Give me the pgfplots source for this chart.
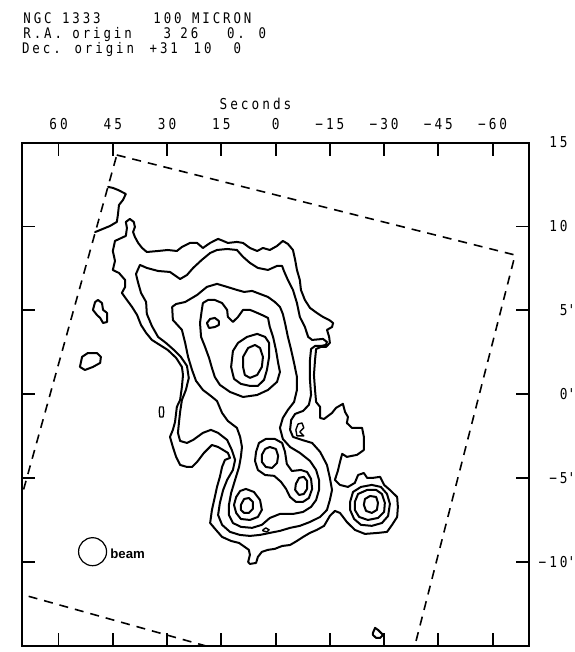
\documentclass[border=0pt]{standalone}
\usepackage{fontspec}
\usepackage{pgfplots}
\pgfplotsset{compat=1.18}
\usetikzlibrary{calc}
\newfontfamily\plotfont[FakeStretch=0.85,LetterSpace=20]{DejaVu Sans Mono}
\newfontfamily\beamfont{Liberation Sans}
\newcommand\hdr{\plotfont\fontsize{7.3pt}{8pt}\selectfont}
\newcommand\tkf{\plotfont\fontsize{7.5pt}{8pt}\selectfont}
\begin{document}
\begin{tikzpicture}
\begin{axis}[name=ax, scale only axis, width=253.2pt, height=251.7pt,
  xmin=-70, xmax=70, ymin=-15, ymax=15, x dir=reverse,
  axis line style={line width=1pt},
  tick align=inside, major tick length=6.5pt,
  tick style={black, line width=0.9pt},
  xtick={-60,-45,-30,-15,0,15,30,45,60},
  xticklabels={−60,−45,−30,−15,0,15,30,45,60},
  xticklabel pos=top,
  xticklabel style={font=\tkf, anchor=base, inner sep=0pt, yshift=6.3pt},
  ytick={-10,-5,0,5,10,15},
  yticklabels={−10\rlap{'},−5\rlap{'},0\rlap{'},5\rlap{'},10,15},
  yticklabel pos=right,
  yticklabel style={font=\tkf, anchor=east, inner sep=0pt, xshift=19.6pt},
  cont/.style={black, line width=1pt, line join=round, line cap=round},
]
% coverage boundary (dashed)
\addplot[black, line width=0.8pt, dash pattern=on 4.5pt off 3.5pt] coordinates {
(43.9,14.26) (-66.2,8.3) (-34.6,-18.25) (77.2,-11.5) (43.9,14.26)};
% L1 outer contour
\addplot[cont] coordinates {
(40.3,10.45)(39.2,10.27)(38.9,9.97)(39.4,9.67)(38.9,9.38)(38.0,9.02)(36.9,8.72)(35.6,8.48)(32.5,8.54)(29.8,8.60)(27.3,8.54)(25.9,8.78)(23.7,9.02)(21.7,9.02)(20.1,8.72)(18.1,9.02)(15.9,9.26)(14.5,9.14)(13.2,9.02)(10.7,9.08)(9.0,9.02)(7.1,8.72)(5.1,8.54)(3.5,8.72)(1.6,8.60)(-0.4,8.84)(-2.0,9.14)(-3.4,8.96)(-4.8,8.60)(-5.4,8.01)(-5.9,7.41)(-6.7,6.81)(-7.0,6.22)(-8.1,5.62)(-9.5,5.15)(-11.4,4.85)(-13.1,4.61)(-14.8,4.43)(-15.9,4.25)(-15.6,4.01)(-14.2,3.84)(-14.8,3.42)(-15.0,3.06)(-13.9,2.82)(-12.5,2.82)(-11.2,2.70)(-10.9,2.05)(-10.6,1.15)(-10.9,0.26)(-11.2,-0.46)(-12.3,-0.75)(-12.3,-1.41)(-13.4,-1.47)(-15.6,-1.11)(-16.7,-0.81)(-18.6,-0.57)(-19.2,-1.05)(-20.0,-1.35)(-19.7,-1.71)(-21.1,-2.00)(-23.9,-2.00)(-24.4,-2.54)(-24.4,-3.32)(-22.5,-3.61)(-19.7,-3.73)(-18.4,-3.55)(-17.8,-4.03)(-17.2,-4.57)(-16.4,-5.10)(-17.8,-5.40)(-20.0,-5.52)(-21.9,-5.28)(-22.8,-4.81)(-24.4,-4.69)(-25.3,-4.98)(-26.9,-4.98)(-28.9,-4.92)(-30.0,-5.40)(-31.6,-5.70)(-33.6,-6.12)(-33.8,-6.71)(-33.6,-7.31)(-32.2,-7.78)(-30.8,-8.20)(-28.3,-8.26)(-24.7,-8.32)(-21.9,-8.08)(-19.7,-7.61)(-17.8,-7.07)(-16.4,-6.95)(-15.0,-7.25)(-13.4,-7.84)(-11.4,-8.08)(-9.5,-8.26)(-7.6,-8.50)(-5.9,-8.74)(-4.0,-8.98)(-1.8,-9.04)(0.2,-9.21)(2.1,-9.27)(3.8,-9.39)(4.9,-9.69)(5.4,-10.05)(7.1,-10.11)(7.6,-9.99)(7.1,-9.57)(7.4,-9.27)(8.5,-9.10)(10.1,-8.86)(12.3,-8.74)(14.8,-8.50)(16.5,-8.08)(18.1,-7.67)(17.6,-6.89)(16.8,-6.12)(16.2,-5.52)(15.4,-4.92)(14.8,-4.33)(14.0,-3.91)(12.6,-3.79)(13.2,-3.49)(14.5,-3.32)(15.9,-3.14)(17.6,-3.02)(19.8,-3.49)(21.7,-4.03)(23.1,-4.33)(24.5,-4.33)(26.4,-4.21)(27.5,-3.73)(28.4,-3.14)(29.2,-2.54)(28.4,-2.12)(27.8,-1.65)(27.3,-0.75)(26.4,-0.34)(25.9,0.44)(25.6,1.15)(25.9,1.63)(27.5,2.17)(29.8,2.64)(32.0,2.94)(34.2,3.24)(35.8,3.66)(37.2,4.13)(38.3,4.73)(39.7,5.21)(41.1,5.62)(42.5,6.04)(41.6,6.40)(41.6,6.81)(43.3,7.23)(45.0,7.41)(44.4,7.95)(45.0,8.54)(44.4,9.14)(41.4,9.44)(41.1,9.91)(41.4,10.27)(40.3,10.45)};
% L2
\addplot[cont] coordinates {
(37.5,7.71)(35.6,7.53)(32.5,7.35)(29.2,7.29)(26.4,6.87)(24.5,7.11)(22.8,7.53)(20.4,8.01)(18.1,8.42)(16.2,8.60)(13.4,8.66)(10.7,8.60)(9.0,8.19)(7.1,7.83)(4.9,7.53)(2.1,7.41)(-0.4,7.65)(-1.8,7.65)(-2.3,7.35)(-3.4,6.81)(-4.8,6.22)(-5.9,5.44)(-6.7,4.61)(-8.1,4.01)(-9.0,3.42)(-10.1,3.24)(-13.1,3.30)(-14.2,3.12)(-13.9,2.94)(-12.5,2.88)(-10.9,2.88)(-9.8,2.70)(-9.5,2.05)(-9.5,0.86)(-9.8,-0.04)(-9.2,-0.63)(-7.6,-0.99)(-5.4,-1.17)(-4.3,-1.53)(-4.0,-2.12)(-4.8,-2.54)(-7.3,-2.72)(-10.1,-2.90)(-12.3,-3.43)(-14.2,-4.21)(-15.0,-4.98)(-15.6,-5.70)(-15.0,-6.30)(-14.2,-6.89)(-12.3,-7.31)(-9.5,-7.61)(-6.7,-7.84)(-4.0,-7.96)(-1.2,-8.14)(1.6,-8.26)(4.3,-8.38)(7.1,-8.44)(9.9,-8.38)(12.6,-8.20)(14.8,-7.78)(15.9,-7.19)(15.4,-6.47)(14.5,-5.70)(13.4,-5.10)(11.8,-4.51)(11.2,-3.91)(12.1,-3.32)(13.4,-2.72)(15.9,-2.30)(17.9,-2.12)(20.1,-2.30)(22.8,-2.72)(24.5,-2.90)(26.4,-2.78)(27.0,-2.30)(26.7,-1.65)(26.4,-1.05)(25.9,-0.34)(24.8,0.26)(24.0,0.97)(24.5,1.69)(26.2,2.23)(28.1,2.64)(30.3,3.06)(32.5,3.42)(34.2,4.07)(35.6,4.79)(35.8,5.50)(37.2,6.04)(38.0,6.64)(38.6,7.17)(37.5,7.71)};
% L3
\addplot[cont] coordinates {
(28.6,5.21)(28.4,4.43)(25.9,3.84)(25.0,3.06)(24.2,2.23)(23.1,1.45)(22.0,0.80)(20.1,0.26)(17.9,-0.10)(16.2,-0.40)(14.8,-1.11)(13.2,-1.59)(10.7,-2.00)(9.8,-2.54)(9.3,-3.14)(9.6,-3.73)(10.1,-4.33)(11.2,-5.10)(12.3,-5.88)(12.9,-6.59)(12.9,-7.19)(11.8,-7.67)(9.6,-7.90)(6.5,-7.96)(3.8,-7.78)(1.6,-7.37)(-1.2,-7.13)(-4.8,-7.13)(-7.6,-7.01)(-9.8,-6.71)(-11.2,-6.30)(-12.0,-5.70)(-12.0,-5.10)(-11.2,-4.51)(-9.5,-3.97)(-6.7,-3.49)(-4.0,-3.14)(-2.0,-2.66)(-1.2,-2.00)(-2.0,-1.41)(-3.4,-0.93)(-5.1,-0.46)(-5.9,0.26)(-5.9,1.03)(-5.1,1.87)(-4.3,2.64)(-3.4,3.42)(-2.6,4.25)(-2.0,4.79)(-1.2,5.21)(0.2,5.50)(2.1,5.80)(4.3,5.98)(6.5,6.16)(8.7,6.10)(10.7,6.22)(13.4,6.40)(16.2,6.58)(19.0,6.40)(21.7,5.92)(25.0,5.50)(27.5,5.38)(28.6,5.21)};
% L4 (upper)
\addplot[cont] coordinates {
(20.1,5.44)(18.7,5.62)(16.8,5.62)(14.8,5.44)(13.4,5.03)(13.2,4.61)(11.8,4.31)(10.4,4.61)(9.0,5.03)(7.1,5.03)(5.7,4.91)(3.8,4.73)(2.1,4.55)(1.6,4.01)(0.7,3.42)(-0.1,2.64)(-0.7,1.87)(-1.2,1.33)(-0.4,0.74)(2.1,0.26)(5.1,-0.04)(9.0,-0.16)(12.6,0.14)(15.4,0.56)(16.8,1.03)(17.6,1.57)(18.4,2.17)(19.5,2.82)(20.6,3.42)(20.9,4.25)(20.4,5.03)(20.1,5.44)};
% L5 (upper peak ring)
\addplot[cont] coordinates {
(12.3,1.63)(11.8,2.58)(10.4,3.06)(7.9,3.42)(5.1,3.60)(2.9,3.42)(1.8,3.06)(1.8,2.23)(2.4,1.45)(3.2,0.86)(4.9,0.50)(7.1,0.50)(9.6,0.62)(11.5,0.92)(12.3,1.63)};
% L6 (upper peak)
\addplot[cont] coordinates {
(9.0,2.23)(7.6,2.76)(5.7,2.94)(4.3,2.76)(3.5,2.23)(3.8,1.63)(5.1,1.15)(7.1,0.98)(8.5,1.15)(9.0,1.63)(9.0,2.23)};
% small oval in upper region
\addplot[cont] coordinates {
(19.0,4.25)(18.1,4.49)(16.8,4.55)(15.7,4.37)(15.7,4.13)(16.8,4.01)(18.4,3.95)(19.0,4.25)};
% lower peaks: A+B ring
\addplot[cont] coordinates {
(5.4,-3.43)(4.6,-2.90)(2.7,-2.66)(0.2,-2.66)(-1.8,-2.90)(-2.6,-3.43)(-3.1,-4.15)(-4.5,-4.57)(-7.0,-4.51)(-8.7,-4.63)(-9.8,-5.04)(-10.1,-5.64)(-9.2,-6.18)(-7.6,-6.41)(-5.6,-6.41)(-4.0,-6.12)(-2.9,-5.64)(-1.5,-5.22)(0.4,-4.86)(2.9,-4.81)(4.9,-4.51)(5.7,-3.97)(5.4,-3.43)};
\addplot[cont] coordinates {
(3.8,-3.61)(2.9,-3.26)(1.6,-3.14)(-0.1,-3.26)(-0.7,-3.67)(-0.4,-4.09)(1.0,-4.39)(2.7,-4.33)(3.8,-4.03)(3.8,-3.61)};
\addplot[cont] coordinates {
(-5.6,-5.34)(-6.5,-4.98)(-7.8,-4.92)(-8.7,-5.16)(-8.7,-5.64)(-7.8,-5.94)(-6.5,-6.00)(-5.4,-5.70)(-5.6,-5.34)};
% peak C
\addplot[cont] coordinates {
(10.9,-6.12)(9.8,-5.76)(8.2,-5.64)(6.0,-5.82)(4.3,-6.30)(3.8,-6.89)(4.9,-7.31)(7.1,-7.49)(9.6,-7.43)(10.9,-7.07)(11.5,-6.59)(10.9,-6.12)};
\addplot[cont] coordinates {
(9.6,-6.59)(8.7,-6.24)(7.4,-6.18)(6.3,-6.41)(6.3,-6.83)(7.4,-7.07)(8.7,-7.07)(9.6,-6.89)(9.6,-6.59)};
% source at -30 s
\addplot[cont] coordinates {
(-20.6,-6.41)(-21.4,-5.82)(-23.6,-5.52)(-26.6,-5.40)(-29.1,-5.52)(-30.8,-5.94)(-31.6,-6.53)(-31.1,-7.25)(-29.4,-7.67)(-26.6,-7.84)(-23.6,-7.78)(-21.7,-7.43)(-20.6,-6.89)(-20.6,-6.41)};
\addplot[cont] coordinates {
(-21.9,-6.41)(-22.8,-5.94)(-25.3,-5.70)(-27.8,-5.70)(-29.4,-5.94)(-30.2,-6.47)(-30.0,-7.01)(-28.3,-7.37)(-25.5,-7.49)(-23.1,-7.31)(-21.9,-6.89)(-21.9,-6.41)};
\addplot[cont] coordinates {
(-24.4,-6.59)(-24.7,-6.24)(-26.1,-6.06)(-27.8,-6.12)(-28.3,-6.47)(-28.0,-6.89)(-26.6,-7.07)(-25.0,-6.95)(-24.4,-6.59)};
% small isolated contours
\addplot[cont] coordinates {
(54.1,1.63)(53.5,2.23)(51.9,2.46)(49.4,2.46)(48.3,2.23)(48.5,1.87)(50.5,1.63)(52.7,1.45)(54.1,1.63)};
\addplot[cont] coordinates {
(49.9,5.50)(49.1,5.62)(48.0,5.44)(47.7,5.03)(46.6,4.85)(46.6,4.31)(47.7,4.25)(48.5,4.55)(49.4,4.73)(50.5,5.03)(49.9,5.50)};
\addplot[cont, line width=0.6pt] coordinates {
(32.2,-0.99)(32.0,-0.75)(31.1,-0.75)(30.9,-1.05)(31.1,-1.35)(32.0,-1.35)(32.2,-0.99)};
\addplot[cont] coordinates {
(46.3,12.36)(45.0,12.30)(43.6,12.18)(41.4,11.94)(42.2,11.58)(43.3,11.28)(43.6,10.69)(43.9,10.27)(45.8,10.03)(48.5,9.79)(49.9,9.67)};
\addplot[cont] coordinates {
(-26.9,-14.22)(-27.5,-13.92)(-28.3,-14.04)(-29.7,-14.34)(-28.9,-14.52)(-27.8,-14.52)(-26.9,-14.34)(-26.9,-14.22)};
\addplot[cont, line width=0.7pt] coordinates {
(-6.2,-1.77)(-7.3,-1.71)(-7.8,-2.00)(-6.7,-2.24)(-7.8,-2.48)(-5.9,-2.48)(-5.6,-2.12)(-6.2,-1.77)};
\addplot[cont, line width=0.7pt] coordinates {
(3.5,-8.08)(2.7,-7.96)(1.8,-8.08)(2.4,-8.20)(3.5,-8.14)(3.5,-8.08)};
% beam
\addplot[only marks, mark=o, mark size=7pt, mark options={line width=0.6pt, black}] coordinates {(50.6,-9.38)};
\end{axis}
% texts
\node[anchor=base west, inner sep=0pt, font=\hdr] at ($(ax.north west)+(0.3pt,59.3pt)$) {NGC 1333};
\node[anchor=base west, inner sep=0pt, font=\hdr] at ($(ax.north west)+(65.3pt,59.3pt)$) {100 MICRON};
\node[anchor=base west, inner sep=0pt, font=\hdr] at ($(ax.north west)+(0.3pt,51.8pt)$) {R.A. origin};
\node[anchor=base west, inner sep=0pt, font=\hdr] at ($(ax.north west)+(70.45pt,51.8pt)$) {3};
\node[anchor=base west, inner sep=0pt, font=\hdr] at ($(ax.north west)+(78.8pt,51.8pt)$) {26};
\node[anchor=base west, inner sep=0pt, font=\hdr] at ($(ax.north west)+(102.15pt,51.8pt)$) {0.};
\node[anchor=base west, inner sep=0pt, font=\hdr] at ($(ax.north west)+(117.95pt,51.8pt)$) {0};
\node[anchor=base west, inner sep=0pt, font=\hdr] at ($(ax.north west)+(-0.35pt,44.3pt)$) {Dec. origin};
\node[anchor=base west, inner sep=0pt, font=\hdr] at ($(ax.north west)+(63.45pt,44.3pt)$) {+31};
\node[anchor=base west, inner sep=0pt, font=\hdr] at ($(ax.north west)+(85.45pt,44.3pt)$) {10};
\node[anchor=base west, inner sep=0pt, font=\hdr] at ($(ax.north west)+(105.45pt,44.3pt)$) {0};
\node[anchor=base, inner sep=0pt, font=\tkf] at ($(ax.north west)+(116.55pt,16.3pt)$) {Seconds};
\node[anchor=base west, inner sep=0pt, font=\beamfont\bfseries\fontsize{6.6pt}{7pt}\selectfont] at ($(ax.north west)+(43.8pt,-207.7pt)$) {beam};
\pgfresetboundingbox
\path ($(ax.south west)+(-11.2pt,-3pt)$) rectangle ($(ax.north east)+(22.6pt,71.3pt)$);
\end{tikzpicture}
\end{document}
